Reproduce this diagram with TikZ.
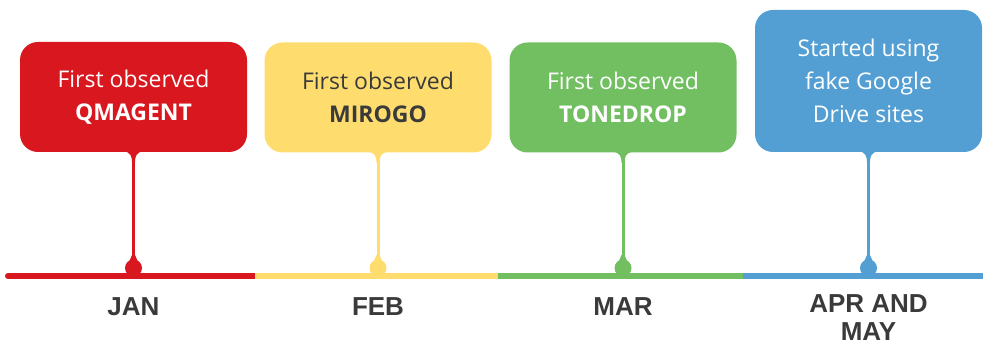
\documentclass[tikz,border=0pt]{standalone}
\usepackage{fontspec}
\setmainfont{Open Sans}
\newfontfamily\monthfont{Liberation Sans}
\usetikzlibrary{positioning,calc}
\definecolor{qred}{HTML}{D9171F}
\definecolor{qyellow}{HTML}{FEDD6E}
\definecolor{qgreen}{HTML}{72BF62}
\definecolor{qblue}{HTML}{539FD3}
\definecolor{qgray}{HTML}{3A3A3A}

\begin{document}
\begin{tikzpicture}[x=1pt,y=-1pt,
  box/.style={rounded corners=18pt, minimum width=227pt, minimum height=110pt, inner sep=0pt, align=center, font=\fontsize{23}{33}\selectfont},
  dot/.style={circle, inner sep=0pt, minimum size=17pt},
  month/.style={font=\monthfont\bfseries\fontsize{26}{28}\selectfont, text=qgray, align=center},
  bar/.style={line width=6pt}]
\useasboundingbox (0,0) rectangle (983,347);
% timeline
\draw[bar,qred,line cap=round] (8,276) -- (255,276);
\draw[bar,qyellow] (255,276) -- (498,276);
\draw[bar,qgreen] (498,276) -- (743,276);
\draw[bar,qblue] (743,276) -- (983,276);
% boxes
\node[box,fill=qred,text=white] (jan) at (133.5,97) {First observed\\\textbf{QMAGENT}};
\node[box,fill=qyellow,text=qgray] (feb) at (378,97.5) {First observed\\\textbf{MIROGO}};
\node[box,fill=qgreen,text=white] (mar) at (623,97.5) {First observed\\\textbf{TONEDROP}};
\node[box,fill=qblue,text=white,minimum height=142pt] (apr) at (868.5,81) {Started using\\fake Google\\Drive sites};
% dots on the line
\node[dot,fill=qred] (jan-dot) at (133.5,268) {};
\node[dot,fill=qyellow] (feb-dot) at (378,268) {};
\node[dot,fill=qgreen] (mar-dot) at (623,268) {};
\node[dot,fill=qblue] (apr-dot) at (868.5,268) {};
% stems
\foreach \m/\c in {jan/qred,feb/qyellow,mar/qgreen,apr/qblue}{
  \draw[\c,line width=3pt] (\m.south) -- (\m-dot.center);
  \fill[\c] ($(\m.south)+(-10,-1)$) -- ($(\m.south)+(10,-1)$) .. controls ($(\m.south)+(3,0)$) and ($(\m.south)+(1.5,4)$) .. ($(\m.south)+(1.5,10)$) -- ($(\m.south)+(-1.5,10)$) .. controls ($(\m.south)+(-1.5,4)$) and ($(\m.south)+(-3,0)$) .. cycle;
  \fill[\c] ($(\m-dot.center)+(-1.5,-13)$) -- ($(\m-dot.center)+(1.5,-13)$) -- ($(\m-dot.center)+(5,-5)$) -- ($(\m-dot.center)+(-5,-5)$) -- cycle;
}
% months
\node[month] (jan-lbl) at (133.5,307) {JAN};
\node[month] (feb-lbl) at (378,307) {FEB};
\node[month] (mar-lbl) at (623,307) {MAR};
\node[month,anchor=north] (apr-lbl) at (868.5,291) {APR AND\\MAY};
\end{tikzpicture}
\end{document}
